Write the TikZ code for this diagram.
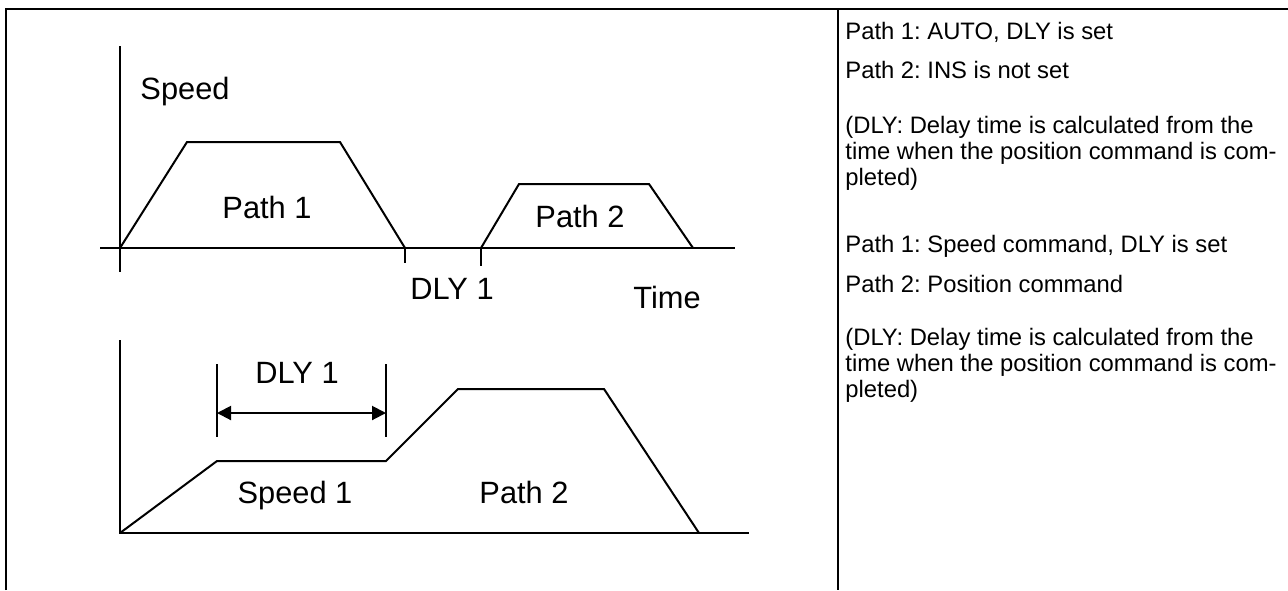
\documentclass[tikz,border=0pt]{standalone}
\usepackage{fontspec}
\setmainfont{Liberation Sans}
\usetikzlibrary{arrows.meta}
\frenchspacing
\begin{document}
\begin{tikzpicture}[x=0.5pt,y=-0.5pt,
  curve/.style={line width=1pt, line join=miter},
  frame/.style={line width=0.7pt},
  lbl/.style={font=\fontsize{15.4}{18}\selectfont, inner sep=0pt, anchor=base},
  note/.style={font=\fontsize{11.9}{13}\selectfont, inner sep=0pt, anchor=base west},
  dimarrow/.style={line width=1pt, {Triangle[length=7pt,width=7pt]}-{Triangle[length=7pt,width=7pt]}},
]
\useasboundingbox (0,0) rectangle (1288,590);
% frame
\coordinate (ftl) at (6,9);
\coordinate (ftr) at (1288,9);
\coordinate (fbl) at (6,590);
\coordinate (fst) at (838,9);
\coordinate (fsb) at (838,590);
\draw[frame] (fbl) -- (ftl) -- (ftr);
\draw[frame] (fst) -- (fsb);

% top chart
\coordinate (ya1) at (120,46);
\coordinate (yb1) at (120,272);
\coordinate (xa1) at (100,248);
\coordinate (xb1) at (735,248);
\draw[curve] (ya1) -- (yb1);
\draw[curve] (xa1) -- (xb1);
\coordinate (p1a) at (120,248);
\coordinate (p1b) at (187,142);
\coordinate (p1c) at (340,142);
\coordinate (p1d) at (405,248);
\draw[curve] (p1a) -- (p1b) -- (p1c) -- (p1d);
\coordinate (t1) at (405,263);
\draw[curve] (p1d) -- (t1);
\coordinate (p2a) at (481,248);
\coordinate (p2b) at (519,184);
\coordinate (p2c) at (649,184);
\coordinate (p2d) at (693,248);
\draw[curve] (p2a) -- (p2b) -- (p2c) -- (p2d);
\coordinate (t2) at (481,266);
\draw[curve] (p2a) -- (t2);

\node[lbl] (speed) at (185,99) {Speed};
\node[lbl] (path1) at (267,218) {Path 1};
\node[lbl] (path2t) at (580,227) {Path 2};
\node[lbl] (dlyt) at (452,299) {DLY 1};
\node[lbl] (time) at (667,308) {Time};

% bottom chart
\coordinate (ya2) at (120,340);
\coordinate (yb2) at (120,533);
\coordinate (xb2) at (749,533);
\draw[curve] (ya2) -- (yb2) -- (xb2);
\coordinate (q1) at (217,461);
\coordinate (q2) at (386,461);
\coordinate (q3) at (458,389);
\coordinate (q4) at (604,389);
\coordinate (q5) at (699,533);
\draw[curve] (yb2) -- (q1) -- (q2) -- (q3) -- (q4) -- (q5);
\coordinate (da) at (217,364);
\coordinate (db) at (217,437);
\coordinate (dc) at (386,364);
\coordinate (dd) at (386,437);
\draw[line width=0.7pt] (da) -- (db);
\draw[line width=0.7pt] (dc) -- (dd);
\coordinate (arl) at (217,413);
\coordinate (arr) at (386,413);
\draw[dimarrow] (arl) -- (arr);

\node[lbl] (dlyb) at (297,383) {DLY 1};
\node[lbl] (speed1) at (295,503) {Speed 1};
\node[lbl] (path2b) at (524,503) {Path 2};

% notes
\node[note] (n1) at (845,39) {Path 1: AUTO, DLY is set};
\node[note] (n2) at (845,78) {Path 2: INS is not set};
\node[note] (n3) at (845,133) {(DLY: Delay time is calculated from the};
\node[note] (n4) at (845,159) {time when the position command is com-};
\node[note] (n5) at (845,185) {pleted)};
\node[note] (n6) at (845,252) {Path 1: Speed command, DLY is set};
\node[note] (n7) at (845,292) {Path 2: Position command};
\node[note] (n8) at (845,345) {(DLY: Delay time is calculated from the};
\node[note] (n9) at (845,371) {time when the position command is com-};
\node[note] (n10) at (845,397) {pleted)};
\end{tikzpicture}
\end{document}
